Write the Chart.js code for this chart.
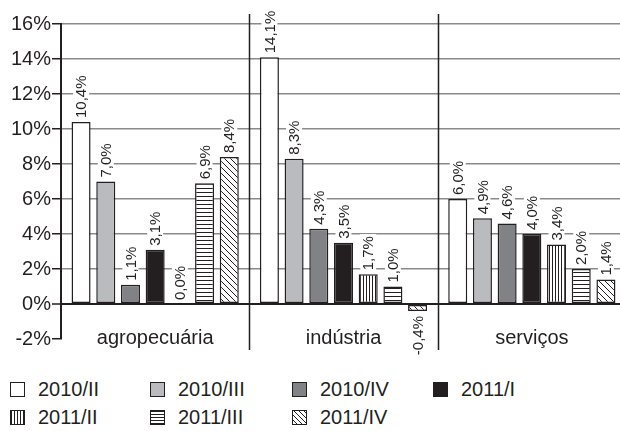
<!DOCTYPE html>
<html lang="pt-BR">
<head>
    <meta charset="UTF-8">
    <title>Variação por setor</title>
    <script src="https://cdn.jsdelivr.net/npm/chart.js"></script>
    <style>
        * { margin: 0; padding: 0; box-sizing: border-box; }
        html, body { width: 620px; height: 431px; overflow: hidden; background: #fff; }
        body { position: relative; font-family: 'Liberation Sans', Arial, sans-serif; color: #231f20; }
        .chart-box { position: absolute; left: 0; top: 0; width: 626px; height: 360px; }
        .legend { position: absolute; left: 0; top: 378px; width: 620px; }
        .legend-item { position: absolute; display: flex; align-items: center; font-size: 20px; line-height: 22px; }
        .swatch { width: 15px; height: 15px; border: 1.5px solid #231f20; margin-right: 13px; }
    </style>
</head>
<body>
    <div class="chart-box"><canvas id="chart"></canvas></div>
    <div class="legend" id="legend"></div>

    <script>
        // categorias e trimestres
        const categories = ['agropecuária', 'indústria', 'serviços'];
        const quarters = ['2010/II', '2010/III', '2010/IV', '2011/I', '2011/II', '2011/III', '2011/IV'];

        // variação (%) por trimestre, na ordem das categorias
        const q2010II  = [10.4, 14.1, 6.0];
        const q2010III = [7.0, 8.3, 4.9];
        const q2010IV  = [1.1, 4.3, 4.6];
        const q2011I   = [3.1, 3.5, 4.0];
        const q2011II  = [0.0, 1.7, 3.4];
        const q2011III = [6.9, 1.0, 2.0];
        const q2011IV  = [8.4, -0.4, 1.4];

        const yTicks = [-2, 0, 2, 4, 6, 8, 10, 12, 14, 16];

        const series = [q2010II, q2010III, q2010IV, q2011I, q2011II, q2011III, q2011IV];

        // padrões de preenchimento
        function makePattern(kind) {
            const c = document.createElement('canvas');
            const ctx = c.getContext('2d');
            if (kind === 'vert') {
                c.width = 3; c.height = 3;
                ctx.fillStyle = '#fff'; ctx.fillRect(0, 0, 3, 3);
                ctx.fillStyle = '#231f20'; ctx.fillRect(0, 0, 1, 3);
            } else if (kind === 'horiz') {
                c.width = 4; c.height = 4;
                ctx.fillStyle = '#fff'; ctx.fillRect(0, 0, 4, 4);
                ctx.fillStyle = '#231f20'; ctx.fillRect(0, 0, 4, 1);
            } else {
                c.width = 6; c.height = 6;
                ctx.fillStyle = '#fff'; ctx.fillRect(0, 0, 6, 6);
                ctx.strokeStyle = '#231f20'; ctx.lineWidth = 1;
                ctx.beginPath();
                ctx.moveTo(-1, -1); ctx.lineTo(7, 7);
                ctx.moveTo(-4, 2); ctx.lineTo(4, 10);
                ctx.moveTo(2, -4); ctx.lineTo(10, 4);
                ctx.stroke();
            }
            return ctx.createPattern(c, 'repeat');
        }

        const fills = ['#ffffff', '#b9bbbe', '#808285', '#231f20',
            makePattern('vert'), makePattern('horiz'), makePattern('diag')];

        const cssFills = ['#ffffff', '#b9bbbe', '#808285', '#231f20',
            'repeating-linear-gradient(90deg, #231f20 0 1px, #fff 1px 3px)',
            'repeating-linear-gradient(0deg, #231f20 0 1px, #fff 1px 3px)',
            'repeating-linear-gradient(45deg, #fff 0 2.5px, #231f20 2.5px 3.5px)'];

        const fmt = v => v.toFixed(1).replace('.', ',') + '%';

        // linhas divisórias e nomes das categorias
        const sectorPlugin = {
            id: 'sectors',
            beforeDatasetsDraw(chart) {
                const { ctx, chartArea, scales } = chart;
                const x = scales.x;
                ctx.save();
                ctx.strokeStyle = '#231f20';
                ctx.lineWidth = 1.5;
                for (let i = 0; i < categories.length - 1; i++) {
                    const sx = Math.round((x.getPixelForValue(i) + x.getPixelForValue(i + 1)) / 2) + 0.5;
                    ctx.beginPath();
                    ctx.moveTo(sx, chartArea.top - 10);
                    ctx.lineTo(sx, chartArea.bottom + 11);
                    ctx.stroke();
                }
                ctx.restore();
            },
            afterDatasetsDraw(chart) {
                const { ctx, scales } = chart;
                ctx.save();
                ctx.font = '20px "Liberation Sans", Arial, sans-serif';
                ctx.fillStyle = '#231f20';
                ctx.textAlign = 'center';
                ctx.textBaseline = 'middle';
                const y = scales.y.getPixelForValue(-2) - 1;
                categories.forEach((c, i) => ctx.fillText(c, scales.x.getPixelForValue(i), y));

                // rótulos dos valores, girados
                ctx.font = '15px "Liberation Sans", Arial, sans-serif';
                chart.data.datasets.forEach((ds, i) => {
                    chart.getDatasetMeta(i).data.forEach((bar, j) => {
                        const v = ds.data[j];
                        const t = fmt(v);
                        const w = ctx.measureText(t).width;
                        ctx.save();
                        ctx.translate(bar.x, v >= 0 ? bar.y - 4 : bar.y + 5);
                        ctx.rotate(-Math.PI / 2);
                        const x0 = v >= 0 ? 0 : -w;
                        ctx.fillStyle = '#fff';
                        ctx.fillRect(x0 - 2, -8, w + 4, 16);
                        ctx.fillStyle = '#231f20';
                        ctx.textAlign = 'left';
                        ctx.textBaseline = 'middle';
                        ctx.fillText(t, x0, 1);
                        ctx.restore();
                    });
                });
                ctx.restore();
            }
        };

        new Chart(document.getElementById('chart'), {
            type: 'bar',
            data: {
                labels: categories,
                datasets: quarters.map((q, i) => ({
                    label: q,
                    data: series[i],
                    backgroundColor: fills[i],
                    borderColor: '#231f20',
                    borderWidth: 1.5,
                    borderSkipped: false,
                    categoryPercentage: 0.918,
                    barPercentage: 0.77
                }))
            },
            options: {
                responsive: true,
                maintainAspectRatio: false,
                animation: false,
                layout: { padding: { top: 24, bottom: 21, right: 0, left: 0 } },
                plugins: { legend: { display: false }, tooltip: { enabled: false } },
                scales: {
                    x: { display: false },
                    y: {
                        min: -2,
                        max: 16,
                        afterBuildTicks: s => { s.ticks = yTicks.map(v => ({ value: v })); },
                        afterFit: s => { s.width = 61; },
                        border: { display: true, color: '#231f20', width: 2 },
                        grid: {
                            color: c => c.tick.value === 0 ? '#231f20' : (c.tick.value === -2 ? 'rgba(0,0,0,0)' : '#8a8a8a'),
                            lineWidth: c => c.tick.value === 0 ? 2 : 1.5,
                            tickColor: '#231f20',
                            tickLength: 9,
                            tickWidth: 1.5
                        },
                        ticks: {
                            padding: 1,
                            color: '#231f20',
                            font: { family: '"Liberation Sans", Arial, sans-serif', size: 20 },
                            callback: v => v + '%'
                        }
                    }
                }
            },
            plugins: [sectorPlugin]
        });

        // legenda em duas linhas
        const legendPos = [[10, 0], [150, 0], [292, 0], [433, 0], [10, 28], [150, 28], [292, 28]];
        const legend = document.getElementById('legend');
        quarters.forEach((q, i) => {
            const item = document.createElement('div');
            item.className = 'legend-item';
            item.style.left = legendPos[i][0] + 'px';
            item.style.top = legendPos[i][1] + 'px';
            item.innerHTML = '<span class="swatch" style="background:' + cssFills[i] + '"></span>' + q;
            legend.appendChild(item);
        });
    </script>
</body>
</html>
